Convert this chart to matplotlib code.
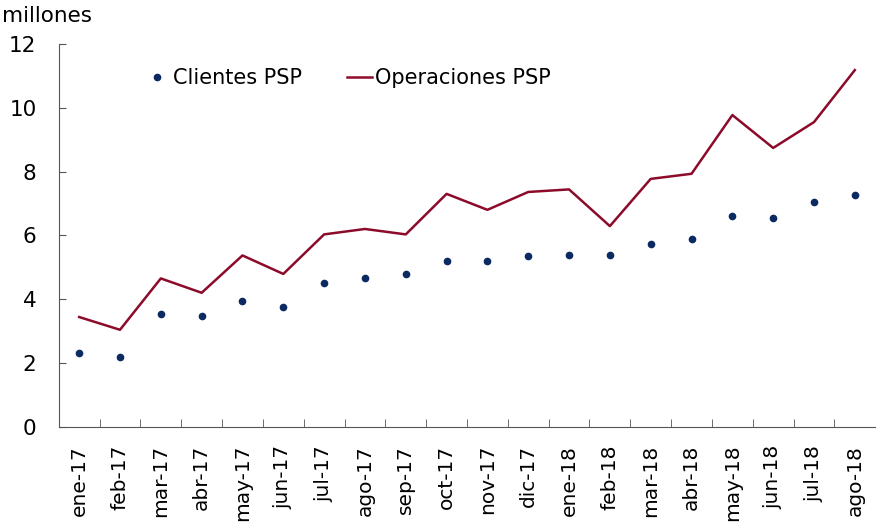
import matplotlib.pyplot as plt

meses = ["ene-17", "feb-17", "mar-17", "abr-17", "may-17", "jun-17", "jul-17",
         "ago-17", "sep-17", "oct-17", "nov-17", "dic-17", "ene-18", "feb-18",
         "mar-18", "abr-18", "may-18", "jun-18", "jul-18", "ago-18"]
clientes = [2.30, 2.18, 3.53, 3.47, 3.93, 3.75, 4.51, 4.65, 4.79, 5.19,
            5.21, 5.36, 5.39, 5.39, 5.73, 5.90, 6.60, 6.55, 7.05, 7.26]
operaciones = [3.44, 3.04, 4.65, 4.20, 5.37, 4.79, 6.03, 6.20, 6.03, 7.30,
               6.80, 7.36, 7.44, 6.29, 7.77, 7.93, 9.77, 8.74, 9.55, 11.18]

navy = "#0c2a62"
rojo = "#8c0b2a"

fig = plt.figure(figsize=(8.77, 5.23), dpi=100)
ax = fig.add_axes([0.067, 0.184, 0.931, 0.732])

x = range(len(meses))
l1, = ax.plot(x, clientes, linestyle="none", marker="o", markersize=4.5,
              color=navy, label="Clientes PSP")
l2, = ax.plot(x, operaciones, color=rojo, linewidth=1.8, label="Operaciones PSP")

ax.set_xlim(-0.5, len(meses) - 0.5)
ax.set_ylim(0, 12)
ax.set_yticks(range(0, 13, 2))
ax.set_xticks(x)
ax.set_xticklabels(meses, rotation=90, fontsize=14.5)
ax.set_xticks([i + 0.5 for i in range(len(meses) - 1)], minor=True)
ax.tick_params(axis="x", which="major", length=0, pad=13)
ax.tick_params(axis="x", which="minor", direction="in", length=6, color="#555555")
ax.tick_params(axis="y", direction="in", length=5, labelsize=15.5, color="#555555", pad=16)

for s in ["top", "right"]:
    ax.spines[s].set_visible(False)
ax.spines["left"].set_color("#555555")
ax.spines["bottom"].set_color("#555555")

fig.text(0.002, 0.969, "millones", fontsize=15.5, va="center", ha="left")

# two separate legends so each handle can have its own length
fig.legend(handles=[l1], loc="center left", bbox_to_anchor=(0.148, 0.851),
           frameon=False, fontsize=15, handlelength=0.8, handletextpad=0.35)
fig.legend(handles=[l2], loc="center left", bbox_to_anchor=(0.3745, 0.851),
           frameon=False, fontsize=15, handlelength=1.2, handletextpad=0.15)

plt.savefig("out.png", dpi=100)
